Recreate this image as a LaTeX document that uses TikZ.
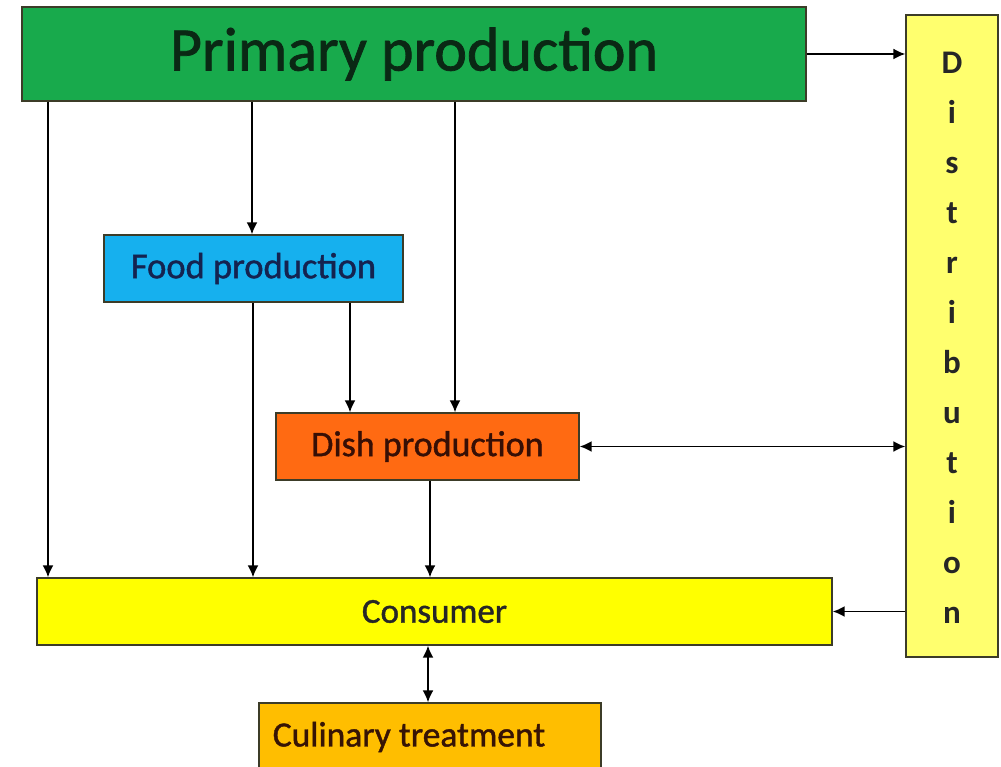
\documentclass[tikz,border=0pt]{standalone}
\usepackage{fontspec}
\setmainfont{Carlito}
\newfontfamily\boxfont[FakeBold=1.2]{Carlito}
\usetikzlibrary{arrows.meta}
\definecolor{primgreen}{RGB}{24,170,76}
\definecolor{distyellow}{RGB}{255,255,110}
\definecolor{foodblue}{RGB}{22,176,238}
\definecolor{dishorange}{RGB}{255,106,18}
\definecolor{consyellow}{RGB}{255,255,0}
\definecolor{culinorange}{RGB}{255,190,0}
\definecolor{edgegray}{RGB}{60,60,40}
\tikzset{
  box/.style={draw=edgegray, line width=1.3pt, rectangle, inner sep=0pt},
  arr/.style={line width=1.9pt, -{Latex[length=12pt,width=11pt]}},
  darr/.style={line width=1.9pt, {Latex[length=12pt,width=11pt]}-{Latex[length=12pt,width=11pt]}},
}
\begin{document}
\begin{tikzpicture}[x=1pt,y=-1pt]
\useasboundingbox (0,0) rectangle (1001,767);
\clip (0,0) rectangle (1001,767);
\fill[white] (0,0) rectangle (1001,767);

% boxes
\node[box, fill=primgreen, minimum width=784pt, minimum height=94pt,
      font=\boxfont\fontsize{62}{70}\selectfont, text={rgb,255:red,10;green,40;blue,20}]
      (primary) at (414,54) {Primary production};
\node[box, fill=distyellow, minimum width=92pt, minimum height=642pt]
      (dist) at (952,336) {};
\node[font=\bfseries\fontsize{33}{50}\selectfont, align=center, text=black!85]
      (distlabel) at (952,338) {D\\i\\s\\t\\r\\i\\b\\u\\t\\i\\o\\n};
\node[box, fill=foodblue, minimum width=299pt, minimum height=67pt,
      font=\boxfont\fontsize{36.5}{40}\selectfont, text={rgb,255:red,20;green,35;blue,80}]
      (food) at (253.5,268.5) {Food production};
\node[box, fill=dishorange, minimum width=303pt, minimum height=67pt,
      font=\boxfont\fontsize{36}{40}\selectfont, text={rgb,255:red,55;green,15;blue,5}]
      (dish) at (427.5,446.5) {Dish production};
\node[box, fill=consyellow, minimum width=795pt, minimum height=67pt,
      font=\boxfont\fontsize{35}{40}\selectfont, text=black!85]
      (consumer) at (434.5,611.5) {Consumer};
\node[box, fill=culinorange, minimum width=342pt, minimum height=70pt]
      (culinary) at (430,738) {};
\node[font=\boxfont\fontsize{35.5}{40}\selectfont, text={rgb,255:red,55;green,20;blue,5}]
      (culinlabel) at (409,737) {Culinary treatment};

% flows from primary production
\draw[arr] (primary.south -| 48,0) -- (consumer.north -| 48,0);
\draw[arr] (primary.south -| 252,0) -- (food.north -| 252,0);
\draw[arr] (primary.south -| 455,0) -- (dish.north -| 455,0);
\draw[arr] (primary.east) -- (dist.west |- primary.east);

% flows from food production
\draw[arr] (food.south -| 253,0) -- (consumer.north -| 253,0);
\draw[arr] (food.south -| 350,0) -- (dish.north -| 350,0);

% flows from dish production
\draw[arr] (dish.south -| 430,0) -- (consumer.north -| 430,0);
\draw[darr] (dish.east) -- (dist.west |- dish.east);

% distribution to consumer, consumer to culinary treatment
\draw[arr] (dist.west |- consumer.east) -- (consumer.east);
\draw[darr] (consumer.south -| 428,0) -- (culinary.north -| 428,0);
\end{tikzpicture}
\end{document}
